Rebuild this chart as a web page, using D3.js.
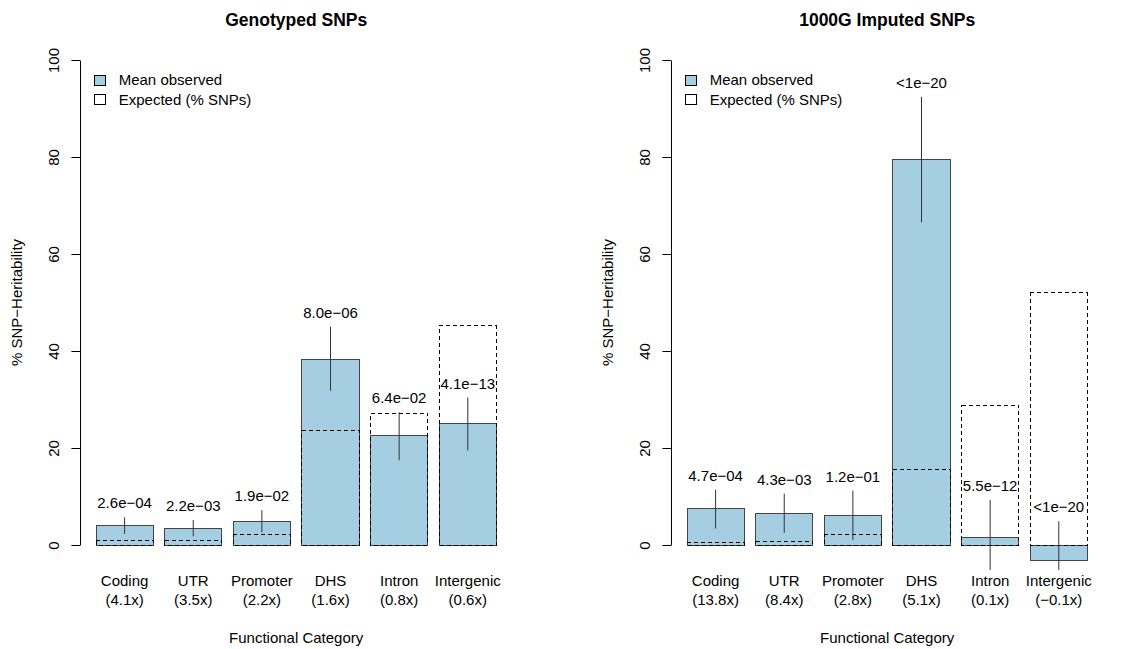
<!DOCTYPE html>
<html>
<head>
<meta charset="utf-8">
<script src="https://cdn.jsdelivr.net/npm/d3@7/dist/d3.min.js"></script>
<style>
  body { margin: 0; background: #fff; }
  svg { font-family: "Liberation Sans", Arial, sans-serif; }
  .yaxis path, .yaxis line { stroke: #000; }
</style>
</head>
<body>
<div id="chart"></div>
<script>
// ----------------------------------------------
// Data
// ----------------------------------------------
var categories = ["Coding", "UTR", "Promoter", "DHS", "Intron", "Intergenic"];
var yTicks = [0, 20, 40, 60, 80, 100];

// Genotyped SNPs
var genoObserved = [4.0, 3.45, 4.9, 38.35, 22.5, 25.0];
var genoExpected = [1.0, 1.0, 2.2, 23.6, 27.1, 45.2];
var genoLow = [2.3, 1.8, 2.6, 31.8, 17.5, 19.5];
var genoHigh = [5.7, 5.15, 7.2, 45.0, 27.4, 30.4];
var genoPval = ["2.6e\u221204", "2.2e\u221203", "1.9e\u221202", "8.0e\u221206", "6.4e\u221202", "4.1e\u221213"];
var genoEnrich = [4.1, 3.5, 2.2, 1.6, 0.8, 0.6];

// 1000G imputed SNPs
var impObserved = [7.5, 6.5, 6.1, 79.5, 1.5, -3.1];
var impExpected = [0.55, 0.76, 2.1, 15.6, 28.8, 52.0];
var impLow = [3.4, 2.5, 1.0, 66.5, -5.15, -5.15];
var impHigh = [11.4, 10.6, 11.2, 92.4, 9.3, 4.9];
var impPval = ["4.7e\u221204", "4.3e\u221203", "1.2e\u221201", "<1e\u221220", "5.5e\u221212", "<1e\u221220"];
var impEnrich = [13.8, 8.4, 2.8, 5.1, 0.1, -0.1];

var legendLabels = ["Mean observed", "Expected (% SNPs)"];
var barColor = "#a6cee3";

// ----------------------------------------------
// Basic D3 Setup
// ----------------------------------------------
var svgWidth = 1141;
var svgHeight = 649;

var svg = d3.select("#chart")
    .append("svg")
    .attr("width", svgWidth)
    .attr("height", svgHeight);

function fmtMinus(s) {
    return s.replace("-", "\u2212");
}

function drawPanel(opts) {
    var g = svg.append("g");

    // barplot style x: bars of width 1, space 0.2, 4% padding
    var xScale = d3.scaleLinear()
        .domain([-0.08, 7.48])
        .range([opts.left, opts.left + 432.4]);
    var yScale = d3.scaleLinear()
        .domain([-4, 104])
        .range([564.4, 40.6]);

    var data = categories.map((c, i) => ({
        cat: c,
        obs: opts.observed[i],
        exp: opts.expected[i],
        lo: opts.low[i],
        hi: opts.high[i],
        p: opts.pval[i],
        enr: opts.enrich[i],
        x0: 0.2 + 1.2 * i
    }));

    // title
    g.append("text")
        .attr("x", xScale(3.7))
        .attr("y", 26)
        .attr("text-anchor", "middle")
        .attr("font-weight", "bold")
        .attr("font-size", "17.5px")
        .text(opts.title);

    // observed bars
    g.selectAll(".obs")
        .data(data)
        .enter()
        .append("rect")
        .attr("x", d => xScale(d.x0))
        .attr("width", d => xScale(d.x0 + 1) - xScale(d.x0))
        .attr("y", d => yScale(Math.max(0, d.obs)))
        .attr("height", d => Math.abs(yScale(d.obs) - yScale(0)))
        .attr("fill", barColor)
        .attr("stroke", "#444")
        .attr("stroke-width", 1)
        .attr("shape-rendering", "crispEdges");

    // expected bars (dashed, no fill)
    g.selectAll(".exp")
        .data(data)
        .enter()
        .append("rect")
        .attr("x", d => xScale(d.x0))
        .attr("width", d => xScale(d.x0 + 1) - xScale(d.x0))
        .attr("y", d => yScale(d.exp))
        .attr("height", d => yScale(0) - yScale(d.exp))
        .attr("fill", "none")
        .attr("stroke", "#000")
        .attr("stroke-width", 1)
        .attr("stroke-dasharray", "4,3")
        .attr("shape-rendering", "crispEdges");

    // error bars
    g.selectAll(".err")
        .data(data)
        .enter()
        .append("line")
        .attr("x1", d => xScale(d.x0 + 0.5))
        .attr("x2", d => xScale(d.x0 + 0.5))
        .attr("y1", d => yScale(d.hi))
        .attr("y2", d => yScale(d.lo))
        .attr("stroke", "#333")
        .attr("stroke-width", 1);

    // p-value labels
    g.selectAll(".pval")
        .data(data)
        .enter()
        .append("text")
        .attr("x", d => xScale(d.x0 + 0.5))
        .attr("y", d => yScale(d.hi) - 9)
        .attr("text-anchor", "middle")
        .attr("font-size", "15px")
        .text(d => d.p);

    // category labels
    var catText = g.selectAll(".cat")
        .data(data)
        .enter()
        .append("text")
        .attr("text-anchor", "middle")
        .attr("font-size", "15px");
    catText.append("tspan")
        .attr("x", d => xScale(d.x0 + 0.5))
        .attr("y", 585.5)
        .text(d => d.cat);
    catText.append("tspan")
        .attr("x", d => xScale(d.x0 + 0.5))
        .attr("y", 604.5)
        .text(d => "(" + fmtMinus(String(d.enr)) + "x)");

    // x axis title
    g.append("text")
        .attr("x", xScale(3.7))
        .attr("y", 643)
        .attr("text-anchor", "middle")
        .attr("font-size", "15px")
        .text("Functional Category");

    // y axis
    var axisScale = d3.scaleLinear()
        .domain([0, 100])
        .range([yScale(0), yScale(100)]);
    var yAxis = g.append("g")
        .classed("yaxis", true)
        .attr("transform", `translate(${opts.left}, 0)`)
        .call(d3.axisLeft(axisScale).tickValues(yTicks).tickSize(8.6).tickSizeOuter(0));
    yAxis.selectAll("text").remove();
    yAxis.selectAll(".tick")
        .append("text")
        .attr("transform", "translate(-21.5,0)rotate(-90)")
        .attr("text-anchor", "middle")
        .attr("fill", "#000")
        .attr("font-size", "15px")
        .attr("font-family", "Liberation Sans, Arial, sans-serif")
        .text(d => d);

    // y axis title
    g.append("text")
        .attr("transform", `translate(${opts.left - 58}, ${yScale(50)})rotate(-90)`)
        .attr("text-anchor", "middle")
        .attr("font-size", "15px")
        .text("% SNP\u2212Heritability");

    // legend
    var legend = g.selectAll(".legend")
        .data(legendLabels)
        .enter()
        .append("g")
        .attr("transform", (d, i) => `translate(${opts.left + 14}, ${80 + i * 19.5})`);
    legend.append("rect")
        .attr("x", 0)
        .attr("y", -5)
        .attr("width", 11)
        .attr("height", 10)
        .attr("fill", (d, i) => i === 0 ? barColor : "#fff")
        .attr("stroke", "#000")
        .attr("shape-rendering", "crispEdges");
    legend.append("text")
        .attr("x", 24.7)
        .attr("y", 5.4)
        .attr("font-size", "15px")
        .text(d => d);
}

drawPanel({
    title: "Genotyped SNPs",
    left: 80,
    observed: genoObserved,
    expected: genoExpected,
    low: genoLow,
    high: genoHigh,
    pval: genoPval,
    enrich: genoEnrich
});

drawPanel({
    title: "1000G Imputed SNPs",
    left: 671,
    observed: impObserved,
    expected: impExpected,
    low: impLow,
    high: impHigh,
    pval: impPval,
    enrich: impEnrich
});
</script>
</body>
</html>
